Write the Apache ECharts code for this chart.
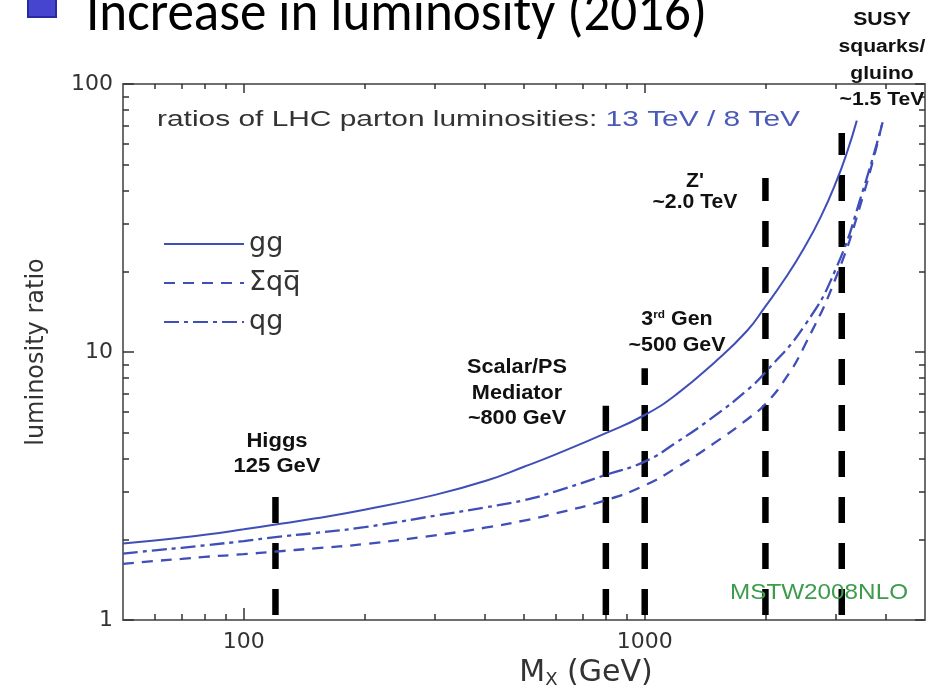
<!DOCTYPE html>
<html><head><meta charset="utf-8">
<script src="https://cdn.jsdelivr.net/npm/echarts@6/dist/echarts.min.js"></script>
<style>html,body{margin:0;padding:0;background:#fff}#c{width:931px;height:696px}</style>
</head><body><div id="c"></div>
<script>
// ---- data ----
const ggMass  = [50, 60, 70, 80, 100, 120, 150, 200, 300, 400, 500, 600, 800, 1000, 1200, 1500, 1800, 2000, 2250, 2500, 2750, 3000, 3200, 3380];
const ggRatio = [1.93, 1.98, 2.03, 2.08, 2.18, 2.27, 2.39, 2.58, 2.93, 3.30, 3.73, 4.15, 4.98, 5.82, 6.95, 9.2, 12.0, 14.8, 19.0, 24.5, 32, 43, 56, 73];
const qqMass  = [50, 60, 70, 80, 100, 120, 150, 200, 300, 400, 500, 600, 800, 1000, 1200, 1500, 1800, 2000, 2250, 2500, 3000, 3500, 3900];
const qqRatio = [1.62, 1.66, 1.69, 1.72, 1.76, 1.80, 1.85, 1.92, 2.07, 2.21, 2.35, 2.50, 2.80, 3.18, 3.70, 4.60, 5.60, 6.4, 8.0, 10.5, 19, 38, 70];
const qgMass  = [50, 60, 70, 80, 100, 120, 150, 200, 300, 400, 500, 600, 800, 1000, 1200, 1500, 1800, 2000, 2500, 3000, 3500, 3920];
const qgRatio = [1.77, 1.82, 1.86, 1.90, 1.97, 2.04, 2.11, 2.22, 2.45, 2.63, 2.80, 3.02, 3.48, 3.90, 4.60, 5.80, 7.20, 8.4, 12.5, 20.5, 40, 72];
const seriesNames = ['gg', '\u03A3qq\u0305', 'qg'];

const markerMass = [120, 800, 1000, 2000, 3100];
const markerTop  = [2.88, 6.3, 8.7, 44.6, 65.7];

const xTickMajor  = [100, 1000];
const xTickMinor  = [60, 70, 80, 90, 200, 300, 400, 500, 600, 700, 800, 900, 2000, 3000, 4000];
const xTickLabels = [100, 1000];
const yTickMajor  = [1, 10, 100];
const yTickMinor  = [2, 3, 4, 5, 6, 7, 8, 9, 20, 30, 40, 50, 60, 70, 80, 90];
const yTickLabels = [1, 10, 100];

// ---- helpers ----
const mctx = document.createElement('canvas').getContext('2d');
function measure(text, font) { mctx.font = font; return mctx.measureText(text).width; }
const SANS = '"Liberation Sans", Arial, sans-serif';
const DV = '"DejaVu Sans", sans-serif';
function txt(text, x, y, font, fill, align, sx) {
  return {
    type: 'text', x: x, y: y, scaleX: sx, silent: true, z: 20,
    style: {text: text, font: font, fill: fill, align: align, textAlign: align,
            verticalAlign: 'middle', textVerticalAlign: 'middle'}
  };
}
function block(lines, cx, ys, size, targetW) {
  const font = 'bold ' + size + 'px ' + SANS;
  const maxW = Math.max.apply(null, lines.map(l => measure(l, font)));
  const k = targetW / maxW;
  return lines.map((l, i) => txt(l, cx, ys[i], font, '#111', 'center', k));
}

const graphics = [];
// slide title (partially cut off at top)
const tFont = '56px Carlito, Lato, "Open Sans", sans-serif';
const tText = 'Increase in luminosity (2016)';
graphics.push(txt(tText, 86, 16, tFont, '#000', 'left', 621 / measure(tText, tFont)));
graphics.push({type: 'rect', silent: true, shape: {x: 28, y: -10, width: 28, height: 27},
  style: {fill: '#4545cf', stroke: '#2a2aa0', lineWidth: 2}});
// plot title
const hFont = '22px ' + SANS;
const h1 = 'ratios of LHC parton luminosities: ', h2 = '13 TeV / 8 TeV';
const hk = 643 / measure(h1 + h2, hFont);
graphics.push(txt(h1, 157, 120, hFont, '#333', 'left', hk));
graphics.push(txt(h2, 157 + hk * measure(h1, hFont), 120, hFont, '#4a5ab8', 'left', hk));
// annotations
block(['Higgs', '125 GeV'], 277, [441, 466], 20, 87).forEach(g => graphics.push(g));
block(['Scalar/PS', 'Mediator', '~800 GeV'], 517, [367, 393, 418], 20, 100).forEach(g => graphics.push(g));
(function () {
  const size = 20, font = 'bold ' + size + 'px ' + SANS;
  const k = 97 / measure('~500 GeV', font);
  graphics.push(txt('~500 GeV', 677, 345, font, '#111', 'center', k));
  const t = txt('{a|3}{b|rd}{a| Gen}', 677, 319, font, '#111', 'center', k);
  t.style.rich = {a: {font: font, fill: '#111'}, b: {font: 'bold 11px ' + SANS, fill: '#111', verticalAlign: 'top', padding: [0, 0, 8, 0]}};
  graphics.push(t);
})();
block(["Z'", '~2.0 TeV'], 695, [181, 202], 20, 85).forEach(g => graphics.push(g));
block(['SUSY', 'squarks/', 'gluino', '~1.5 TeV'], 882, [20, 47, 74, 100], 18, 87).forEach(g => graphics.push(g));
// PDF set label
const mFont = '22px ' + SANS;
graphics.push(txt('MSTW2008NLO', 730, 593, mFont, '#3c9c4c', 'left', 178 / measure('MSTW2008NLO', mFont)));

// ---- series ----
const blue = '#3f4fb7';
const styles = [
  {type: 'solid', width: 2},
  {type: [11, 8], width: 2.3},
  {type: [15, 5, 4, 5], width: 2.3}
];
const curves = [[ggMass, ggRatio], [qqMass, qqRatio], [qgMass, qgRatio]].map((d, i) => ({
  name: seriesNames[i], type: 'line', xAxisIndex: 0, yAxisIndex: 0,
  data: d[0].map((m, j) => [m, d[1][j]]),
  showSymbol: false, symbol: 'none', smooth: 0.5, z: 5, silent: true,
  color: blue, lineStyle: Object.assign({color: blue}, styles[i])
}));
const markers = markerMass.map((m, i) => ({
  name: 'marker' + i, type: 'line', xAxisIndex: 0, yAxisIndex: 0,
  data: [[m, 1], [m, markerTop[i]]],
  showSymbol: false, symbol: 'none', z: 3, silent: true,
  lineStyle: {color: '#000', width: 6.5, type: [26, 20], dashOffset: 41, cap: 'butt'}
}));

// ---- axes ----
const axisLine = {show: true, onZero: false, lineStyle: {color: '#6e6e6e', width: 2}};
const tickStyle = {color: '#333', width: 1.5};
function xAx(pos, values, len, labels) {
  return {
    type: 'log', logBase: 10, min: 50, max: 5000, position: pos, gridIndex: 0,
    axisLine: labels ? axisLine : {show: pos === 'top' && len > 6, onZero: false, lineStyle: axisLine.lineStyle},
    axisTick: {show: true, inside: true, length: len, customValues: values, lineStyle: tickStyle},
    axisLabel: labels ? {show: true, customValues: labels, formatter: v => String(Math.round(v)), margin: 11,
      fontFamily: DV, fontSize: 22, color: '#333'} : {show: false},
    splitLine: {show: false}, minorTick: {show: false}, axisPointer: {show: false},
    name: labels ? '{m|M}{s|X}{m| (GeV)}' : '', nameLocation: 'middle', nameGap: 37,
    nameTextStyle: {padding: [0, 0, 0, 124], rich: {
      m: {fontFamily: DV, fontSize: 30, color: '#333'},
      s: {fontFamily: DV, fontSize: 18, color: '#333', verticalAlign: 'bottom', padding: [14, 0, 0, 0]}}}
  };
}
function yAx(pos, values, len, labels) {
  return {
    type: 'log', logBase: 10, min: 1, max: 100, position: pos, gridIndex: 0,
    axisLine: labels ? axisLine : {show: pos === 'right' && len > 6, onZero: false, lineStyle: axisLine.lineStyle},
    axisTick: {show: true, inside: true, length: len, customValues: values, lineStyle: tickStyle},
    axisLabel: labels ? {show: true, customValues: labels, formatter: v => String(Math.round(v)), margin: 10,
      fontFamily: DV, fontSize: 22, color: '#333'} : {show: false},
    splitLine: {show: false}, minorTick: {show: false}, axisPointer: {show: false},
    name: labels ? 'luminosity ratio' : '', nameLocation: 'middle', nameGap: 74, nameRotate: 90,
    nameTextStyle: {fontFamily: DV, fontSize: 24, color: '#333'}
  };
}

const chart = echarts.init(document.getElementById('c'), null, {renderer: 'canvas'});
chart.setOption({
  animation: false,
  backgroundColor: '#fff',
  grid: {left: 123, right: 6, top: 84, bottom: 76, containLabel: false},
  xAxis: [
    xAx('bottom', xTickMajor, 12, xTickLabels),
    xAx('bottom', xTickMinor, 6, null),
    xAx('top', xTickMajor, 9, null),
    xAx('top', xTickMinor, 5, null)
  ],
  yAxis: [
    yAx('left', yTickMajor, 11, yTickLabels),
    yAx('left', yTickMinor, 6, null),
    yAx('right', yTickMajor, 10, null),
    yAx('right', yTickMinor, 6, null)
  ],
  legend: {
    show: true, orient: 'vertical', left: 163, top: 229, padding: 0, itemWidth: 80, itemHeight: 14, itemGap: 9,
    data: seriesNames, selectedMode: false,
    itemStyle: {opacity: 0},
    textStyle: {fontFamily: DV, fontSize: 27, color: '#333', lineHeight: 30}
  },
  tooltip: {show: false},
  series: markers.concat(curves),
  graphic: graphics
});
</script>
</body></html>
